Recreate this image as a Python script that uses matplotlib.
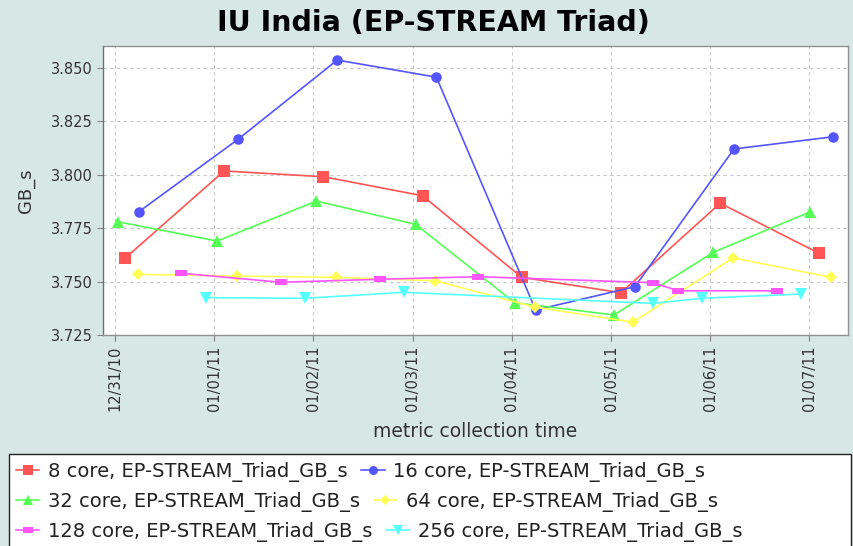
import numpy as np
import matplotlib
matplotlib.use("Agg")
import matplotlib.pyplot as plt
from matplotlib.patches import Rectangle

# time in days since 12/31/10
tick_labels = ['12/31/10', '01/01/11', '01/02/11', '01/03/11',
               '01/04/11', '01/05/11', '01/06/11', '01/07/11']

t8 = [0.10, 1.10, 2.10, 3.10, 4.10, 5.10, 6.10, 7.10]
v8 = [3.7609, 3.8018, 3.7991, 3.7902, 3.7520, 3.7448, 3.7867, 3.7632]

t16 = [0.24, 1.24, 2.24, 3.24, 4.24, 5.24, 6.24, 7.24]
v16 = [3.7827, 3.8166, 3.8537, 3.8457, 3.7367, 3.7476, 3.8121, 3.8178]

t32 = [0.03, 1.03, 2.03, 3.03, 4.03, 5.03, 6.03, 7.01]
v32 = [3.7780, 3.7690, 3.7877, 3.7768, 3.7401, 3.7344, 3.7637, 3.7827]

t64 = [0.23, 1.23, 2.23, 3.23, 4.23, 5.22, 6.23, 7.22]
v64 = [3.7534, 3.7526, 3.7520, 3.7504, 3.7381, 3.7310, 3.7611, 3.7520]

t128 = [0.67, 1.67, 2.67, 3.66, 5.42, 5.68, 6.67]
v128 = [3.7539, 3.7497, 3.7511, 3.7523, 3.7495, 3.7457, 3.7457]

t256 = [0.92, 1.92, 2.91, 5.42, 5.92, 6.91]
v256 = [3.7425, 3.7422, 3.7450, 3.7398, 3.7422, 3.7442]

bg = '#d7e8e4'
hbar = [(-1, -0.55), (1, -0.55), (1, 0.55), (-1, 0.55), (-1, -0.55)]

series = [
    (t8, v8, '#ff5555', 's', 8.2, '8 core, EP-STREAM_Triad_GB_s'),
    (t16, v16, '#5555ff', 'o', 7.6, '16 core, EP-STREAM_Triad_GB_s'),
    (t32, v32, '#55ff55', '^', 9.2, '32 core, EP-STREAM_Triad_GB_s'),
    (t64, v64, '#ffff55', 'D', 6.2, '64 core, EP-STREAM_Triad_GB_s'),
    (t128, v128, '#ff55ff', hbar, 8.2, '128 core, EP-STREAM_Triad_GB_s'),
    (t256, v256, '#55ffff', 'v', 9.2, '256 core, EP-STREAM_Triad_GB_s'),
]

fig = plt.figure(figsize=(8.54, 5.46), dpi=100, facecolor=bg)
ax = fig.add_axes([0.1206, 0.3864, 0.8724, 0.5294])
ax.set_facecolor('white')

handles = []
for t, v, c, m, ms, lab in series:
    h, = ax.plot(t, v, color=c, marker=m, markersize=ms, markeredgewidth=0,
                 linewidth=1.2, label=lab, zorder=3)
    handles.append(h)

ax.set_xlim(-0.121, 7.389)
ax.set_ylim(3.725, 3.8603)
ax.set_xticks(range(len(tick_labels)))
ax.set_xticklabels(tick_labels, rotation=90, va='top', ha='center')
ax.set_yticks([3.725, 3.750, 3.775, 3.800, 3.825, 3.850])
ax.set_yticklabels(['3.725', '3.750', '3.775', '3.800', '3.825', '3.850'])
ax.tick_params(labelsize=10.5, colors='#333333', length=4, width=0.8,
               direction='out')
ax.tick_params(color='#808080')
ax.grid(True, color='#c8c8c8', linestyle=(0, (3, 3)), linewidth=0.8, zorder=0)
for s in ax.spines.values():
    s.set_color('#909090')
    s.set_linewidth(1)
ax.spines['left'].set_color('#707070')

ax.set_ylabel('GB_s', fontsize=13, color='#333333', labelpad=11)
ax.set_xlabel('metric collection time', fontsize=13.5, color='#333333',
              labelpad=8)

fig.text(0.507, 0.958, 'IU India (EP-STREAM Triad)', ha='center',
         va='center', fontsize=20.5, fontweight='bold')

# legend frame
fig.patches.append(Rectangle((9 / 854, -0.01), 842 / 854, 1 - 454 / 546 + 0.01,
                             transform=fig.transFigure, facecolor='white',
                             edgecolor='#222222', linewidth=1, zorder=1))

rows_y = [471.7, 501.7, 531.7]
for i, yy in enumerate(rows_y):
    leg = fig.legend(handles=handles[2 * i:2 * i + 2], ncol=2,
                     loc='center left', bbox_to_anchor=(16 / 854, 1 - yy / 546),
                     frameon=False, fontsize=14, handlelength=1.2,
                     handletextpad=0.45, columnspacing=0.7, borderpad=0,
                     borderaxespad=0, markerscale=0.85)
    for tx in leg.get_texts():
        tx.set_color('#222222')
    leg.set_zorder(2)

fig.savefig('out.png', dpi=100, facecolor=bg)
